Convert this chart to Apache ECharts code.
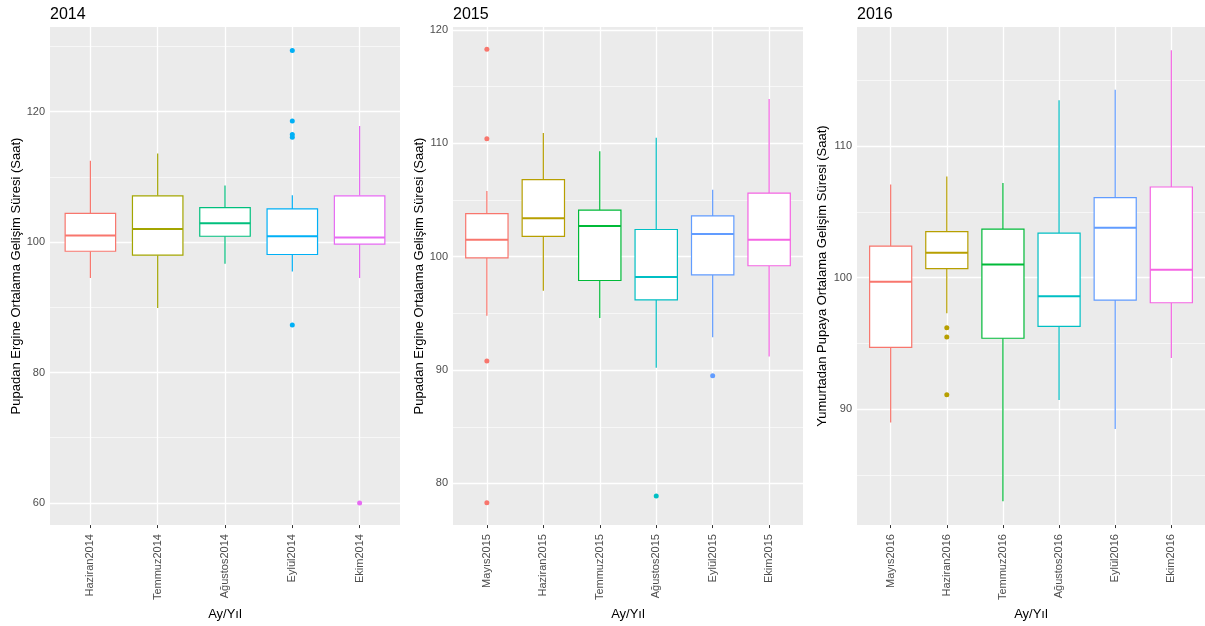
<!DOCTYPE html>
<html>
<head>
<meta charset="utf-8">
<script src="https://cdn.jsdelivr.net/npm/echarts@6/dist/echarts.min.js"></script>
<style>html,body{margin:0;padding:0;background:#fff;}#c{width:1205px;height:626px;}</style>
</head>
<body>
<div id="c"></div>
<script>
// ---- Data ----
const titles = ['2014', '2015', '2016'];
const yTitles = [
  'Pupadan Ergine Ortalama Gelişim Süresi (Saat)',
  'Pupadan Ergine Ortalama Gelişim Süresi (Saat)',
  'Yumurtadan Pupaya Ortalama Gelişim Süresi (Saat)'
];
const xTitle = 'Ay/Yıl';

const cats2014 = ['Haziran2014', 'Temmuz2014', 'Ağustos2014', 'Eylül2014', 'Ekim2014'];
// [lowWhisker, Q1, median, Q3, highWhisker]
const box2014 = [
  [94.5, 98.6, 101.0, 104.4, 112.5],
  [89.9, 98.0, 102.0, 107.1, 113.6],
  [96.7, 100.9, 102.9, 105.3, 108.7],
  [95.5, 98.1, 100.9, 105.1, 107.2],
  [94.5, 99.7, 100.7, 107.1, 117.8]
];
const out2014 = [[3, 129.4], [3, 118.6], [3, 116.5], [3, 116.1], [3, 87.3], [4, 60.0]];
const yMajor2014 = [60, 80, 100, 120];
const yMinor2014 = [70, 90, 110, 130];

const cats2015 = ['Mayıs2015', 'Haziran2015', 'Temmuz2015', 'Ağustos2015', 'Eylül2015', 'Ekim2015'];
const box2015 = [
  [94.8, 99.9, 101.5, 103.8, 105.8],
  [97.0, 101.8, 103.4, 106.8, 110.9],
  [94.6, 97.9, 102.7, 104.1, 109.3],
  [90.2, 96.2, 98.2, 102.4, 110.5],
  [92.9, 98.4, 102.0, 103.6, 105.9],
  [91.2, 99.2, 101.5, 105.6, 113.9]
];
const out2015 = [[0, 118.3], [0, 110.4], [0, 90.8], [0, 78.3], [3, 78.9], [4, 89.5]];
const yMajor2015 = [80, 90, 100, 110, 120];
const yMinor2015 = [85, 95, 105, 115];

const cats2016 = ['Mayıs2016', 'Haziran2016', 'Temmuz2016', 'Ağustos2016', 'Eylül2016', 'Ekim2016'];
const box2016 = [
  [89.0, 94.7, 99.7, 102.4, 107.1],
  [97.3, 100.7, 101.9, 103.5, 107.7],
  [83.0, 95.4, 101.0, 103.7, 107.2],
  [90.7, 96.3, 98.6, 103.4, 113.5],
  [88.5, 98.3, 103.8, 106.1, 114.3],
  [93.9, 98.1, 100.6, 106.9, 117.3]
];
const out2016 = [[1, 96.2], [1, 95.5], [1, 91.1]];
const yMajor2016 = [90, 100, 110];
const yMinor2016 = [85, 95, 105, 115];

// ---- Styles ----
const pal5 = ['#F8766D', '#A3A500', '#00BF7D', '#00B0F6', '#E76BF3'];
const pal6 = ['#F8766D', '#B79F00', '#00BA38', '#00BFC4', '#619CFF', '#F564E3'];
const FONT = '"Liberation Sans", Arial, sans-serif';

const panels = [
  { cats: cats2014, box: box2014, out: out2014, major: yMajor2014, minor: yMinor2014, pal: pal5,
    ymin: 56.6, ymax: 133.0, grid: { left: 50, width: 350, top: 27, height: 500 }, nameGap: 26 },
  { cats: cats2015, box: box2015, out: out2015, major: yMajor2015, minor: yMinor2015, pal: pal6,
    ymin: 76.33, ymax: 120.26, grid: { left: 453, width: 350, top: 27, height: 500 }, nameGap: 26 },
  { cats: cats2016, box: box2016, out: out2016, major: yMajor2016, minor: yMinor2016, pal: pal6,
    ymin: 81.19, ymax: 119.07, grid: { left: 857, width: 349, top: 27, height: 500 }, nameGap: 28 }
];

function renderBox(colors) {
  return function (params, api) {
    const i = api.value(0);
    const c = colors[i];
    const lo = api.coord([i, api.value(1)]);
    const q1 = api.coord([i, api.value(2)]);
    const md = api.coord([i, api.value(3)]);
    const q3 = api.coord([i, api.value(4)]);
    const hi = api.coord([i, api.value(5)]);
    const hw = api.size([0.75, 0])[0] / 2;
    const x = lo[0];
    return {
      type: 'group',
      children: [
        { type: 'line', shape: { x1: x, y1: hi[1], x2: x, y2: q3[1] }, style: { stroke: c, lineWidth: 1.2 } },
        { type: 'line', shape: { x1: x, y1: q1[1], x2: x, y2: lo[1] }, style: { stroke: c, lineWidth: 1.2 } },
        { type: 'rect', shape: { x: x - hw, y: q3[1], width: 2 * hw, height: q1[1] - q3[1] },
          style: { fill: '#ffffff', stroke: c, lineWidth: 1.2 } },
        { type: 'line', shape: { x1: x - hw, y1: md[1], x2: x + hw, y2: md[1] }, style: { stroke: c, lineWidth: 2 } }
      ]
    };
  };
}

const option = {
  animation: false,
  backgroundColor: '#ffffff',
  title: [],
  grid: [],
  xAxis: [],
  yAxis: [],
  series: []
};

panels.forEach((p, k) => {
  option.title.push({
    text: titles[k], left: p.grid.left - 5, top: 2,
    textStyle: { fontFamily: FONT, fontSize: 16, fontWeight: 'normal', color: '#000' }
  });
  option.grid.push(Object.assign({ show: true, backgroundColor: '#EBEBEB', borderWidth: 0 }, p.grid));
  const idx = p.cats.map((c, i) => i);
  option.xAxis.push({
    type: 'value', gridIndex: k, min: -0.6, max: p.cats.length - 0.4,
    name: xTitle, nameLocation: 'middle', nameGap: 82,
    nameTextStyle: { fontFamily: FONT, fontSize: 13, color: '#000' },
    axisLine: { show: false },
    axisTick: { show: true, customValues: idx, length: 3, lineStyle: { color: '#333', width: 1 } },
    axisLabel: { customValues: idx, rotate: 90, margin: 9, formatter: v => p.cats[Math.round(v)] || '',
      fontFamily: FONT, fontSize: 11, color: '#4D4D4D' },
    splitLine: { show: false }
  });
  option.yAxis.push({
    type: 'value', gridIndex: k, min: p.ymin, max: p.ymax,
    name: yTitles[k], nameLocation: 'middle', nameRotate: 90, nameGap: p.nameGap,
    nameTextStyle: { fontFamily: FONT, fontSize: 13, color: '#000' },
    axisLine: { show: false },
    axisTick: { show: true, customValues: p.major, length: 3, lineStyle: { color: '#333', width: 1 } },
    axisLabel: { customValues: p.major, margin: 5, fontFamily: FONT, fontSize: 11, color: '#4D4D4D' },
    splitLine: { show: false }
  });
  // gridlines
  option.series.push({
    type: 'line', xAxisIndex: k, yAxisIndex: k, data: [], z: 1, silent: true,
    markLine: {
      silent: true, symbol: ['none', 'none'], label: { show: false }, animation: false, z: 1,
      lineStyle: { color: '#ffffff', type: 'solid', width: 1.3 },
      emphasis: { disabled: true },
      data: [].concat(
        p.minor.map(v => ({ yAxis: v, lineStyle: { color: '#ffffff', type: 'solid', width: 0.6 } })),
        p.major.map(v => ({ yAxis: v, lineStyle: { color: '#ffffff', type: 'solid', width: 1.3 } })),
        idx.map(i => ({ xAxis: i, lineStyle: { color: '#ffffff', type: 'solid', width: 1.3 } }))
      )
    }
  });
  option.series.push({
    type: 'custom', xAxisIndex: k, yAxisIndex: k, z: 3, silent: true,
    renderItem: renderBox(p.pal),
    encode: { x: 0, y: [1, 2, 3, 4, 5] },
    data: p.box.map((b, i) => [i].concat(b))
  });
  option.series.push({
    type: 'scatter', xAxisIndex: k, yAxisIndex: k, z: 4, silent: true,
    symbolSize: 5,
    itemStyle: { color: params => p.pal[params.data[0]], opacity: 1 },
    data: p.out
  });
});

const chart = echarts.init(document.getElementById('c'), null, { renderer: 'canvas' });
chart.setOption(option);
</script>
</body>
</html>
